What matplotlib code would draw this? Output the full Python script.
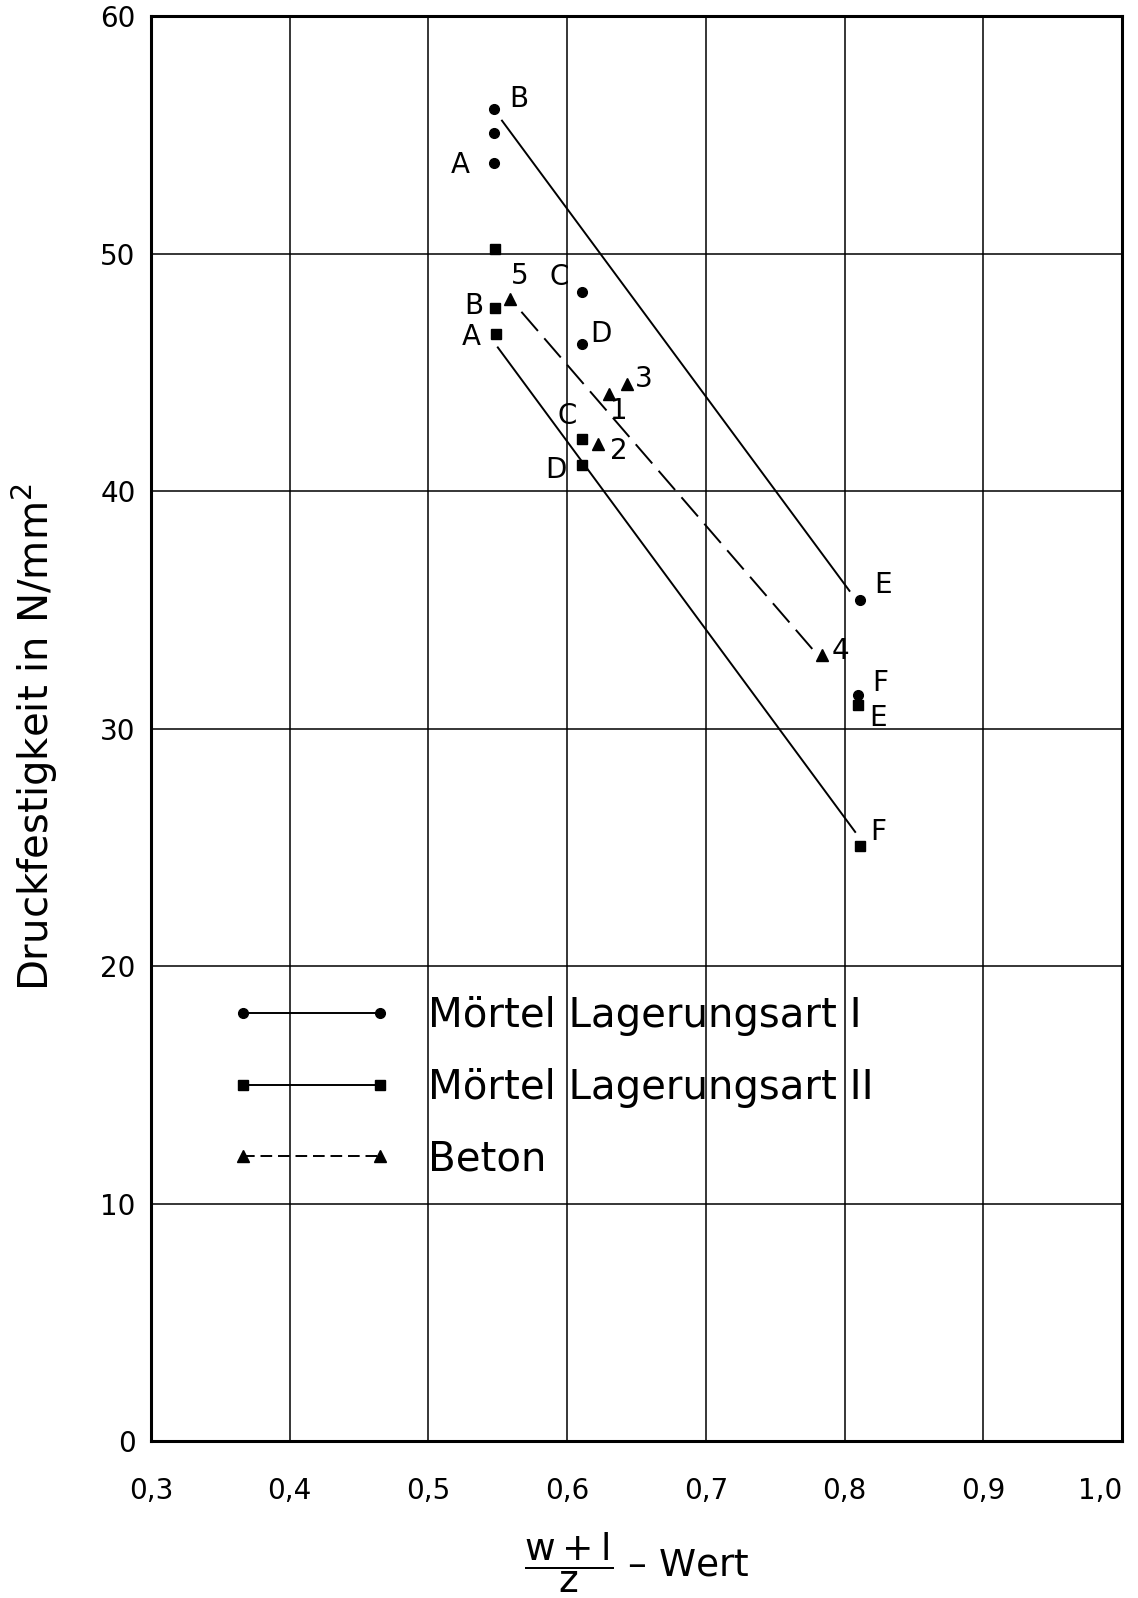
import matplotlib
matplotlib.use('Agg')
import matplotlib.pyplot as plt

# Mörtel Lagerungsart I (circles)
morI_x = [0.547, 0.547, 0.547, 0.611, 0.611, 0.811, 0.810]
morI_y = [56.1, 55.1, 53.8, 48.4, 46.2, 35.4, 31.4]
morI_lab = ['B', '', 'A', 'C', 'D', 'E', 'F']
morI_line_x = [0.553, 0.8035]
morI_line_y = [55.6, 35.8]

# Mörtel Lagerungsart II (squares)
morII_x = [0.548, 0.548, 0.549, 0.611, 0.611, 0.810, 0.811]
morII_y = [50.2, 47.7, 46.6, 42.2, 41.1, 31.0, 25.05]
morII_lab = ['', 'B', 'A', 'C', 'D', 'E', 'F']
morII_line_x = [0.550, 0.8076]
morII_line_y = [46.05, 25.65]

# Beton (triangles)
beton_x = [0.559, 0.630, 0.643, 0.6225, 0.784]
beton_y = [48.1, 44.1, 44.5, 42.0, 33.1]
beton_lab = ['5', '1', '3', '2', '4']
beton_line_x = [0.567, 0.7775]
beton_line_y = [47.55, 33.3]

xticks = [0.3, 0.4, 0.5, 0.6, 0.7, 0.8, 0.9, 1.0]
xticklabels = ['0,3', '0,4', '0,5', '0,6', '0,7', '0,8', '0,9', '1,0']
yticks = [0, 10, 20, 30, 40, 50, 60]

plt.rcParams['font.family'] = ['DejaVu Sans']

fig = plt.figure(figsize=(11.38, 15.98), dpi=100)
ax = fig.add_axes([0.1327, 0.0982, 0.8533, 0.8917])

ax.set_xlim(0.3, 1.0)
ax.set_ylim(0, 60)
ax.set_xticks(xticks)
ax.set_xticklabels(xticklabels)
ax.set_yticks(yticks)
ax.tick_params(length=0, labelsize=20)
ax.tick_params(axis='x', pad=26)
ax.tick_params(axis='y', pad=11)
ax.get_xticklabels()[-1].set_ha('right')
ax.grid(True, color='black', lw=1.1)
for s in ax.spines.values():
    s.set_linewidth(2.2)

ms = dict(color='black', linestyle='none')
ax.plot(morI_x, morI_y, marker='o', markersize=7, **ms)
ax.plot(morII_x, morII_y, marker='s', markersize=7, **ms)
ax.plot(beton_x, beton_y, marker='^', markersize=8, **ms)

ax.plot(morI_line_x, morI_line_y, color='black', lw=1.4)
ax.plot(morII_line_x, morII_line_y, color='black', lw=1.4)
ax.plot(beton_line_x, beton_line_y, color='black', lw=1.4, dashes=(13, 5))

# label offsets in pixels (dx, dy)
offI = [(25, 10), None, (-33, -2), (-23, 15), (18, 10), (23, 15), (22, 12)]
offII = [None, (-21, 2), (-25, -3), (-15, 23), (-27, -5), (20, -13), (18, 14)]
offB = [(9, 23), (10, -17), (17, 5), (20, -7), (18, 4)]

for xs, ys, labs, offs in [(morI_x, morI_y, morI_lab, offI),
                           (morII_x, morII_y, morII_lab, offII),
                           (beton_x, beton_y, beton_lab, offB)]:
    for x, y, lab, off in zip(xs, ys, labs, offs):
        if not lab:
            continue
        ax.annotate(lab, (x, y), xytext=(off[0] * 0.72, off[1] * 0.72),
                    textcoords='offset points', ha='center', va='center',
                    fontsize=20)

# legend
h1, = ax.plot([], [], color='black', lw=1.4, marker='o', markersize=7)
h2, = ax.plot([], [], color='black', lw=1.4, marker='s', markersize=7)
h3, = ax.plot([], [], color='black', lw=1.4, marker='^', markersize=8, dashes=(6, 3))
ax.legend([h1, h2, h3],
          ['Mörtel Lagerungsart I', 'Mörtel Lagerungsart II', 'Beton'],
          loc='upper left', bbox_to_anchor=(0.0825, 0.312), frameon=False,
          numpoints=2, fontsize=29, handlelength=4.0, handletextpad=0.9,
          labelspacing=0.78, borderpad=0, borderaxespad=0)

fig.text(0.031, 1 - 737 / 1598, 'Druckfestigkeit in N/mm$^2$', fontsize=29,
         rotation=90, ha='center', va='center')
fig.text(637 / 1138, 1 - 1563 / 1598, r'$\dfrac{\mathrm{w+l}}{\mathrm{z}}$ – Wert',
         fontsize=27, ha='center', va='center')

fig.savefig('out.png', dpi=100)
